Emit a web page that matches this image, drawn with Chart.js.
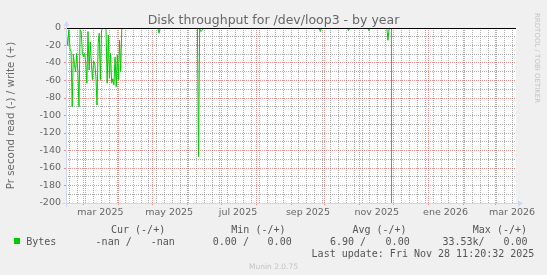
<!DOCTYPE html>
<html><head><meta charset="utf-8">
<script src="https://cdn.jsdelivr.net/npm/chart.js@4.4.1/dist/chart.umd.min.js"></script>
<style>
html,body{margin:0;padding:0;background:#f0f0f0;}
#wrap{position:relative;width:547px;height:275px;overflow:hidden;background:#f0f0f0;}
#c{position:absolute;left:0;top:0;}
.t{position:absolute;white-space:pre;color:#666;}
#title{left:0;width:547px;text-align:center;top:12px;font:12.5px/15px 'DejaVu Sans';color:#666;}
.mono{font:10px/12px 'DejaVu Sans Mono';color:#555;}
#footer{left:0;width:547px;text-align:center;top:262px;font:7.5px/10px 'DejaVu Sans';color:#c4c4c4;}
#wm{left:532px;top:13px;font:7px/10px 'DejaVu Sans';color:#c4c4c4;writing-mode:vertical-rl;}
#box{position:absolute;left:14px;top:238px;width:6px;height:6px;background:#00cc00;}
</style></head>
<body><div id="wrap">
<canvas id="c" width="547" height="275"></canvas>
<div class="t" id="title">Disk throughput for /dev/loop3 - by year</div>
<div class="t" id="wm">RRDTOOL / TOBI OETIKER</div>
<div id="box"></div>
<div class="t" id="footer">Munin 2.0.75</div>
</div>
<script>
// ---- data (day offsets counted from 1 mar 2025) ----
const dayZero = '2025-03-01T00:00:00';
const axisStartDate = '2025-02-13T12:00:00';
const axisEndDate = '2026-03-19T12:00:00';
const lastUpdateDate = '2025-11-28T11:20:32';

const readDays = [-15,-14,-13,-12,-11,-10,-9,-8,-7,-6,-5,-4,-3,-2,-1,0,1,2,3,4,5,6,7,8,9,10,11,12,13,14,15,16,17,18,19,20,21,22,23,24,25,26,27,28,29,30,31,32,33,34,35,
  66,67,68,101,102,103,104,105,106,209,210,211,234,235,236,252,253,254,269,270,271,272];
const readValues = [-8,-20,-2,-24,-27,-90,-30,-42,-50,-29,-50,-90,-2,-4,-29,-33,-29,-40,-63,-4,-48,-16,-40,-59,-38,-40,-55,-88,-18,-6,-59,-3,0,0,0,-2,-63,-8,-57,-29,-63,-58,-65,-33,-67,-31,-59,-14,-50,0,0,
  0,-6,0,0,-147,0,-4,-3,0,0,-4,0,0,-3,0,0,-3,0,0,-14,0,0];

const yMin = -200, yMax = 0, yStep = 10, yLabelStep = 20;
const xLabelMonths = ['2025-03','2025-05','2025-07','2025-09','2025-11','2026-01','2026-03'];
const xLabels = ['mar 2025','may 2025','jul 2025','sep 2025','nov 2025','ene 2026','mar 2026'];

const legendHeaders = ['Cur (-/+)','Min (-/+)','Avg (-/+)','Max (-/+)'];
const legendRead = ['-nan /','0.00 /','6.90 /','33.53k/'];
const legendWrite = ['-nan','0.00','0.00','0.00'];
const legendName = 'Bytes';
const lastUpdateText = 'Last update: Fri Nov 28 11:20:32 2025';

// ---- helpers ----
const DAY = 86400000;
const toDay = s => (Date.parse(s + 'Z') - Date.parse(dayZero + 'Z')) / DAY;
const xMin = toDay(axisStartDate), xMax = toDay(axisEndDate);
const nowDay = toDay(lastUpdateDate);

// ---- legend text ----
const wrap = document.getElementById('wrap');
function addText(txt, left, top) {
  const d = document.createElement('div');
  d.className = 't mono'; d.textContent = txt;
  d.style.left = left + 'px'; d.style.top = top + 'px';
  wrap.appendChild(d);
}
const headX = [111, 231.3, 352.4, 472.8];
const readX = [95.6, 212.8, 330, 442.4];
const writeX = [150.7, 267.6, 385.6, 503.5];
legendHeaders.forEach((h, i) => addText(h, headX[i], 223.5));
addText(legendName, 26.2, 235.5);
legendRead.forEach((v, i) => addText(v, readX[i], 235.5));
legendWrite.forEach((v, i) => addText(v, writeX[i], 235.5));
addText(lastUpdateText, 311.6, 248.2);

// ---- colours ----
const MGRID = 'rgba(222,79,79,0.6)';
const GRID = 'rgba(143,143,143,0.75)';
const AXIS = '#CFD6F8';

function buildXTicks(scale) {
  const t = [];
  const majors = [];
  let y = 2025, m = 1;
  for (let k = 0; k < 16; k++) {
    const d = (Date.UTC(y, m, 1) - Date.parse(dayZero + 'Z')) / DAY;
    if (d >= xMin && d <= xMax) { majors.push(d); t.push({value: d, kind: 'major'}); }
    m++; if (m > 11) { m = 0; y++; }
  }
  // weekly (monday) minor lines
  let first = 2; while (first - 7 >= xMin) first -= 7;
  for (let d = first; d <= xMax; d += 7) {
    if (!majors.includes(d)) t.push({value: d, kind: 'minor'});
  }
  xLabelMonths.forEach((ym, i) => {
    const d = toDay(ym + '-01T00:00:00') + 15;
    t.push({value: d, kind: 'label', text: xLabels[i]});
  });
  t.sort((a, b) => a.value - b.value);
  scale.ticks = t;
}

const overlay = {
  id: 'rrdOverlay',
  beforeDraw(chart) {
    const {ctx, chartArea: a} = chart;
    ctx.save(); ctx.fillStyle = '#ffffff';
    ctx.fillRect(a.left, a.top, a.right - a.left, a.bottom - a.top);
    ctx.restore();
  },
  beforeDatasetsDraw(chart) {
    const {ctx, chartArea: a, scales} = chart;
    const x = Math.round(scales.x.getPixelForValue(nowDay)) + 0.5;
    ctx.save(); ctx.strokeStyle = '#888888'; ctx.lineWidth = 1;
    ctx.beginPath(); ctx.moveTo(x, a.top); ctx.lineTo(x, a.bottom); ctx.stroke();
    ctx.restore();
  },
  afterDatasetsDraw(chart) {
    const {ctx, chartArea: a, scales} = chart;
    ctx.save();
    const y0 = Math.round(scales.y.getPixelForValue(0)) + 0.5;
    ctx.strokeStyle = '#000000'; ctx.lineWidth = 1;
    ctx.beginPath(); ctx.moveTo(a.left, y0); ctx.lineTo(a.right, y0); ctx.stroke();
    const L = a.left + 0.5, B = Math.round(a.bottom) + 0.5, R = a.right, T = a.top;
    ctx.strokeStyle = AXIS; ctx.fillStyle = AXIS;
    ctx.beginPath(); ctx.moveTo(a.left - 4, B); ctx.lineTo(R + 4, B); ctx.stroke();
    ctx.beginPath(); ctx.moveTo(L, a.bottom + 4); ctx.lineTo(L, T - 4); ctx.stroke();
    ctx.beginPath(); ctx.moveTo(R + 2, B - 3); ctx.lineTo(R + 2, B + 3); ctx.lineTo(R + 7, B); ctx.closePath(); ctx.fill();
    ctx.beginPath(); ctx.moveTo(L - 3, T - 2); ctx.lineTo(L + 3, T - 2); ctx.lineTo(L, T - 7); ctx.closePath(); ctx.fill();
    ctx.restore();
  }
};

Chart.defaults.font.family = "'DejaVu Sans'";
Chart.defaults.color = '#666';

new Chart(document.getElementById('c'), {
  type: 'line',
  data: {
    datasets: [{
      label: legendName,
      data: readDays.map((d, i) => ({x: d, y: readValues[i]})),
      borderColor: '#00cc00', borderWidth: 1, pointRadius: 0, tension: 0, fill: false
    }]
  },
  options: {
    responsive: false, animation: false, devicePixelRatio: 1,
    layout: {padding: {left: 0, top: 28, right: 31, bottom: 52}},
    plugins: {legend: {display: false}, tooltip: {enabled: false}, title: {display: false}},
    scales: {
      x: {
        type: 'linear', min: xMin, max: xMax,
        border: {display: false, dash: [1, 1]},
        grid: {
          color: c => c.tick && c.tick.kind === 'major' ? MGRID : (c.tick && c.tick.kind === 'minor' ? GRID : 'rgba(0,0,0,0)'),
          tickColor: c => c.tick && c.tick.kind === 'major' ? MGRID : 'rgba(0,0,0,0)',
          lineWidth: 1, drawTicks: true, tickLength: 2
        },
        ticks: {
          autoSkip: false, maxRotation: 0, minRotation: 0, padding: 2,
          font: {size: 9.5}, color: '#666',
          callback: (v, i, ticks) => ticks[i].text || ''
        },
        afterBuildTicks: buildXTicks,
        afterFit: s => { s.height = 20; }
      },
      y: {
        min: yMin, max: yMax,
        border: {display: false, dash: [1, 1]},
        grid: {
          color: c => (c.tick && c.tick.value % yLabelStep === 0) ? MGRID : GRID,
          tickColor: c => (c.tick && c.tick.value % yLabelStep === 0) ? MGRID : 'rgba(0,0,0,0)',
          lineWidth: 1, drawTicks: true, tickLength: 2
        },
        ticks: {
          stepSize: yStep, autoSkip: false, padding: 3,
          font: {size: 9.5}, color: '#666',
          callback: v => (v % yLabelStep === 0) ? String(v) : ''
        },
        title: {display: true, text: 'Pr second read (-) / write (+)', font: {size: 10.3}, color: '#666', padding: {top: 5, bottom: 0}},
        afterFit: s => { s.width = 66; }
      }
    }
  },
  plugins: [overlay]
});
</script>
</body></html>
